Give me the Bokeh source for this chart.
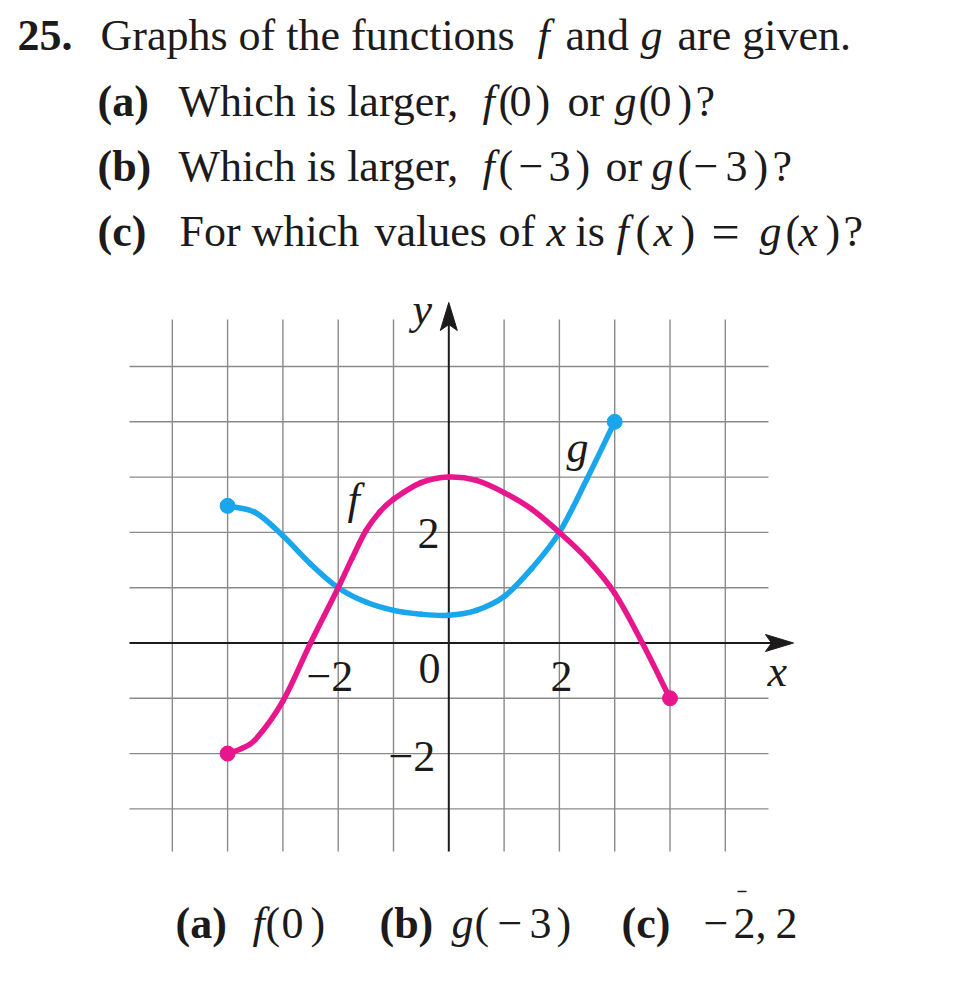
from bokeh.plotting import figure
from bokeh.models import Range1d, ColumnDataSource
from bokeh.embed import file_html
from bokeh.resources import INLINE
from bokeh.core.properties import value

# ---------------- data ----------------
f_x = [-4, -3.75, -3.5, -3, -2.5, -2, -1.75, -1.5, -1.25, -1, -0.5, 0, 0.5, 1, 1.5, 2, 2.5, 3, 3.5, 4]
f_y = [-2, -1.91, -1.75, -1.05, 0, 1, 1.53, 2.03, 2.37, 2.6, 2.9, 3, 2.94, 2.72, 2.42, 2, 1.52, 0.9, 0, -1]
g_x = [-4, -3.5, -3, -2.5, -2, -1.5, -1, -0.5, 0, 0.5, 1, 1.5, 2, 2.5, 3]
g_y = [2.48, 2.36, 1.94, 1.43, 1, 0.74, 0.59, 0.52, 0.5, 0.59, 0.84, 1.35, 2, 2.97, 4]
f_ends_x = [-4, 4]
f_ends_y = [-2, -1]
g_ends_x = [-4, 3]
g_ends_y = [2.48, 4]
grid_x = [-5, -4, -3, -2, -1, 1, 2, 3, 4, 5]
grid_y = [-3, -2, -1, 1, 2, 3, 4, 5]
x_tick_labels = ["\u22122", "0", "2"]
y_tick_labels = ["2", "\u22122"]

# ---------------- layout helpers (page pixels -> data units) ----------------
W, H = 944, 978
UNIT = 55.3
AX_PX = 448.3   # page x of y-axis
AY_PX = 642.5   # page y of x-axis
TXT_SHIFT = 14  # baseline correction for the svg text renderer


def X(px):
    return (px - AX_PX) / UNIT


def Y(py):
    return (AY_PX - py) / UNIT


p = figure(width=W, height=H, output_backend="svg", toolbar_location=None,
           x_range=Range1d(X(0), X(W)), y_range=Range1d(Y(H), Y(0)),
           min_border=0, x_axis_location=None, y_axis_location=None)
p.grid.visible = False
p.outline_line_color = None
p.background_fill_color = "white"
p.border_fill_color = "white"

GRID = "#8a8a8a"
INK = "#1c1a1a"
PINK = "#e8168c"
BLUE = "#1aa6ec"
SERIF = "Liberation Serif"

# grid
gy0, gy1 = Y(851), Y(319)
gx0, gx1 = X(129), X(768)
p.segment(x0=grid_x, y0=[gy0] * len(grid_x), x1=grid_x, y1=[gy1] * len(grid_x),
          line_color=GRID, line_width=1.4)
p.segment(x0=[gx0] * len(grid_y), y0=grid_y, x1=[gx1] * len(grid_y), y1=grid_y,
          line_color=GRID, line_width=1.4)

# axes
p.segment(x0=[gx0], y0=[0], x1=[X(780)], y1=[0], line_color=INK, line_width=2)
p.segment(x0=[0], y0=[gy0], x1=[0], y1=[Y(318)], line_color=INK, line_width=2)
hw = 8.5 / UNIT
p.patch([X(793), X(765), X(771), X(765)], [0, hw, 0, -hw], fill_color=INK, line_color=INK, line_width=1)
p.patch([0, hw, 0, -hw], [Y(302), Y(330), Y(324), Y(330)], fill_color=INK, line_color=INK, line_width=1)


def smooth(xs, ys, color):
    # smooth curve through the read points, drawn as cubic Bezier pieces
    n = len(xs)
    x0, y0, x1, y1, cx0, cy0, cx1, cy1 = [], [], [], [], [], [], [], []
    for i in range(n - 1):
        a = max(i - 1, 0)
        d = min(i + 2, n - 1)
        h = xs[i + 1] - xs[i]
        s0 = (ys[i + 1] - ys[a]) / (xs[i + 1] - xs[a])
        s1 = (ys[d] - ys[i]) / (xs[d] - xs[i])
        x0.append(xs[i]); y0.append(ys[i])
        x1.append(xs[i + 1]); y1.append(ys[i + 1])
        cx0.append(xs[i] + h / 3.0)
        cy0.append(ys[i] + s0 * h / 3.0)
        cx1.append(xs[i + 1] - h / 3.0)
        cy1.append(ys[i + 1] - s1 * h / 3.0)
    p.bezier(x0=x0, y0=y0, x1=x1, y1=y1, cx0=cx0, cy0=cy0, cx1=cx1, cy1=cy1,
             line_color=color, line_width=5.5, line_cap="round")


smooth(g_x, g_y, BLUE)
smooth(f_x, f_y, PINK)
p.scatter(g_ends_x, g_ends_y, size=15, color=BLUE)
p.scatter(f_ends_x, f_ends_y, size=15, color=PINK)


def texts(items, style, size="44px", align="left"):
    src = ColumnDataSource(dict(x=[X(a[1]) for a in items],
                                y=[Y(a[2] - TXT_SHIFT) for a in items],
                                t=[a[0] for a in items]))
    p.text(x="x", y="y", text="t", source=src, text_font=value(SERIF),
           text_font_style=style, text_font_size=size, text_color=INK,
           text_align=align, text_baseline="alphabetic")


bold_items = [("25.", 17, 49), ("(a)", 97, 115), ("(b)", 97, 180), ("(c)", 97, 245),
              ("(a)", 175, 937), ("(b)", 379, 937), ("(c)", 621, 937)]
roman_items = [
    ("Graphs of the functions", 100, 49),
    ("and", 565, 49), ("are given.", 677, 49),
    ("Which is larger,", 178, 115),
    ("(", 498, 115), ("0", 509, 115), (")", 535, 115), ("or", 567, 115),
    ("(", 638, 115), ("0", 649, 115), (")", 677, 115), ("?", 695, 115),
    ("Which is larger,", 178, 180),
    ("(", 498, 180), ("\u2212", 518, 180), ("3", 548, 180), (")", 575, 180), ("or", 605, 180),
    ("(", 677, 180), ("\u2212", 693, 180), ("3", 725, 180), (")", 753, 180), ("?", 772, 180),
    ("For which", 179, 245), ("values", 374, 245),
    ("of", 498, 245), ("is", 575, 245), ("(", 635, 245), (")", 680, 245),
    ("(", 785, 245), (")", 825, 245), ("?", 843, 245),
    ("(", 265, 937), ("0", 281, 937), (")", 310, 937),
    ("(", 474, 937), ("\u2212", 497, 937), ("3", 529, 937), (")", 556, 937),
    ("\u2212", 703, 937), ("2,", 733, 937), ("2", 775, 937),
    # tick labels
    (y_tick_labels[0], 417, 547), (y_tick_labels[1], 388, 770),
    (x_tick_labels[0], 306, 690), (x_tick_labels[1], 418, 682), (x_tick_labels[2], 550, 690),
]
equals_items = [("=", 725, 245)]
italic_items = [
    ("f", 537, 49), ("g", 640, 49), ("f", 482, 115), ("g", 614, 115),
    ("f", 482, 180), ("g", 651, 180),
    ("x", 546, 245), ("f", 616, 245), ("x", 653, 245), ("g", 759, 245), ("x", 798, 245),
    ("f", 252, 937), ("g", 451, 937),
    ("y", 412, 323), ("x", 767, 685), ("f", 347, 513), ("g", 566, 461),
]

texts(bold_items, "bold")
texts(roman_items, "normal")
texts(equals_items, "normal", size="50px", align="center")
texts(italic_items, "italic")

# small stray mark printed above the answer "2"
p.segment(x0=[X(737)], y0=[Y(891)], x1=[X(746)], y1=[Y(891)], line_color=INK, line_width=1.5)

open("out.html", "w").write(file_html(p, INLINE))
